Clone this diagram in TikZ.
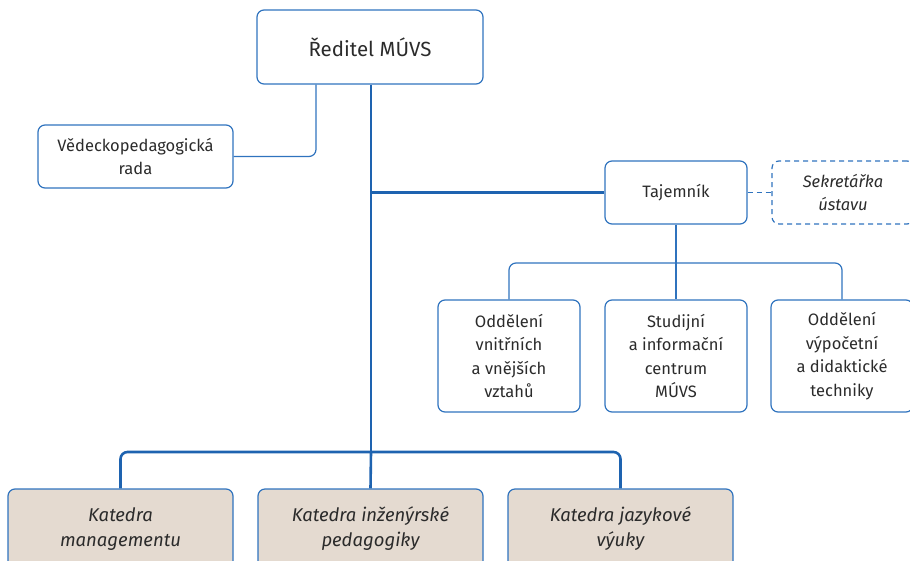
\documentclass[tikz,border=0pt]{standalone}
\usepackage{fontspec}
\setmainfont{Fira Sans}
\definecolor{bl}{HTML}{2F73BE}
\definecolor{bl2}{HTML}{1E63B0}
\definecolor{tx}{HTML}{2B2B2B}
\definecolor{beige}{HTML}{E4DAD0}
\begin{document}
\begin{tikzpicture}[x=1pt,y=-1pt,
  box/.style={draw=bl,line width=1.2pt,rounded corners=7pt,align=center,text=tx,inner sep=0pt,font=\fontsize{16.5}{23.5}\selectfont},
  kat/.style={box,fill=beige},
  kattext/.style={align=center,text=tx,font=\fontsize{18.5}{25}\selectfont\itshape},
  ln/.style={draw=bl,line width=1.2pt,rounded corners=7pt},
  thick ln/.style={draw=bl2,line width=2.6pt,rounded corners=7pt}]
\useasboundingbox (0,0) rectangle (910,560);
\clip (0,0) rectangle (910,560);
\node[box,minimum width=226,minimum height=74,font=\fontsize{20.5}{22}\selectfont] (red) at (370,47) {Ředitel MÚVS};
\node[box,minimum width=195,minimum height=63] (vpr) at (135.5,156.5) {Vědeckopedagogická\\rada};
\node[box,minimum width=142,minimum height=63] (taj) at (676,192.5) {Tajemník};
\node[box,dash pattern=on 5pt off 4pt,minimum width=142,minimum height=63,font=\fontsize{16.5}{23.5}\selectfont\itshape] (sek) at (843,192.5) {Sekretářka\\ústavu};
\node[box,minimum width=142,minimum height=112] (o1) at (509,356) {Oddělení\\vnitřních\\a vnějších\\vztahů};
\node[box,minimum width=142,minimum height=112] (o2) at (676,356) {Studijní\\a informační\\centrum\\MÚVS};
\node[box,minimum width=142,minimum height=112] (o3) at (842,356) {Oddělení\\výpočetní\\a didaktické\\techniky};
\node[kat,minimum width=225,minimum height=82] (k1) at (120.5,530) {};
\node[kat,minimum width=225,minimum height=82] (k2) at (370.5,530) {};
\node[kat,minimum width=225,minimum height=82] (k3) at (620.5,530) {};
\node[kattext] (t1) at (120.5,529) {Katedra\\managementu};
\node[kattext] (t2) at (370.5,529) {Katedra inženýrské\\pedagogiky};
\node[kattext] (t3) at (620.5,529) {Katedra jazykové\\výuky};
\coordinate (trunk) at (371,452);
\coordinate (tb) at (371,192.5);
\coordinate (ob) at (676,263);
% connectors
\draw[ln] (red.south -| 316,0) |- (vpr.east);
\draw[thick ln,rounded corners=0] (red.south -| trunk) -- (trunk);
\draw[thick ln,rounded corners=0] (tb) -- (taj.west);
\draw[ln,dash pattern=on 5pt off 4pt] (taj.east) -- (sek.west);
\draw[ln] (taj.south) -- (o2.north);
\draw[ln] (o1.north) |- (ob) -| (o3.north);
\draw[thick ln] (k1.north) |- (trunk) -| (k3.north);
\draw[thick ln] (trunk) -- (k2.north);
\end{tikzpicture}
\end{document}
